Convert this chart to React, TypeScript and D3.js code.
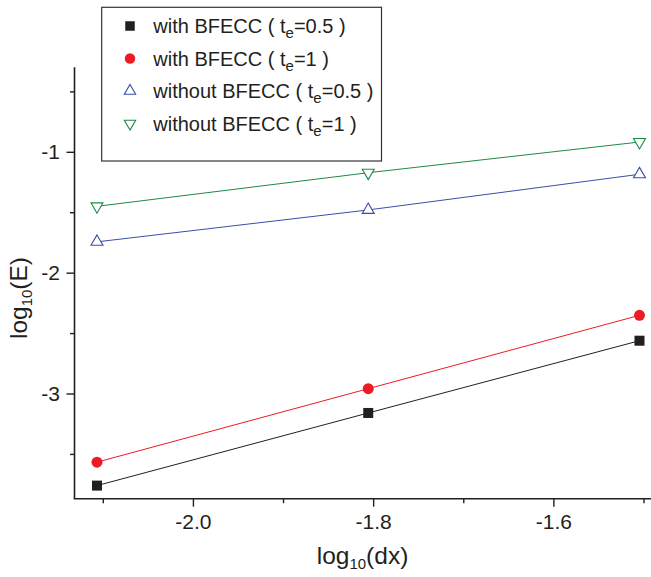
import React from "react";
import * as d3 from "d3";

const xValues = [-2.107, -1.806, -1.505];
const withTe05 = [-3.758, -3.157, -2.559];
const withTe1 = [-3.564, -2.956, -2.349];
const withoutTe05 = [-1.741, -1.477, -1.182];
const withoutTe1 = [-1.447, -1.169, -0.915];

const xMajorTicks = [-2.0, -1.8, -1.6];
const xMinorTicks = [-2.1, -1.9, -1.7, -1.5];
const yMajorTicks = [-1, -2, -3];
const yMinorTicks = [-0.5, -1.5, -2.5, -3.5];

const seriesNames = ["with BFECC", "with BFECC", "without BFECC", "without BFECC"];
const seriesTe = ["0.5", "1", "0.5", "1"];

const W = 651;
const H = 577;
const FONT = "'Liberation Sans', Arial, Helvetica, sans-serif";

export default function App() {
  const left = 74.5;
  const right = 660;
  const top = 67.3;
  const bottom = 498.7;

  const x = d3.scaleLinear().domain([-2.1, -1.5]).range([103.3, 644]);
  const y = d3.scaleLinear().domain([-1, -3]).range([152.3, 394]);

  const series = [
    { data: withTe05, color: "#231f20", marker: "square" },
    { data: withTe1, color: "#ed1c24", marker: "circle" },
    { data: withoutTe05, color: "#3a4ea8", marker: "up" },
    { data: withoutTe1, color: "#1f8a45", marker: "down" },
  ];

  const line = d3
    .line<number>()
    .x((_, i) => x(xValues[i]))
    .y((d) => y(d));

  const marker = (type: string, color: string, cx: number, cy: number, key: string, s = 1) => {
    if (type === "square") {
      const a = 10 * s;
      return <rect key={key} x={cx - a / 2} y={cy - a / 2} width={a} height={a} fill={color} />;
    }
    if (type === "circle") {
      return <circle key={key} cx={cx} cy={cy} r={5.5 * s} fill={color} />;
    }
    const rot = type === "down" ? 180 : 0;
    return (
      <path
        key={key}
        d={d3.symbol(d3.symbolTriangle, 62 * s * s)() as string}
        transform={`translate(${cx},${cy}) rotate(${rot})`}
        fill="white"
        stroke={color}
        strokeWidth={1.1}
      />
    );
  };

  const axisColor = "#231f20";
  const legendRows = [26, 58.5, 91, 123.5];

  return (
    <svg
      width={W}
      height={H}
      style={{ position: "absolute", left: 0, top: 0, background: "white" }}
      fontFamily={FONT}
    >
      <rect x={0} y={0} width={W} height={H} fill="white" />

      {series.map((s, i) => (
        <path key={"l" + i} d={line(s.data) as string} fill="none" stroke={s.color} strokeWidth={1} />
      ))}
      {series.map((s, i) =>
        s.data.map((v, j) => marker(s.marker, s.color, x(xValues[j]), y(v), `m${i}-${j}`))
      )}

      <line x1={left} y1={top} x2={left} y2={bottom} stroke={axisColor} strokeWidth={1.6} />
      <line x1={left - 0.8} y1={bottom} x2={right} y2={bottom} stroke={axisColor} strokeWidth={1.6} />

      {yMajorTicks.map((t) => (
        <g key={"ym" + t}>
          <line x1={left - 8} x2={left} y1={y(t)} y2={y(t)} stroke={axisColor} strokeWidth={1.4} />
          <text x={60} y={y(t) + 6.8} fontSize={21} textAnchor="end" fill={axisColor}>
            {d3.format("d")(t).replace("−", "-")}
          </text>
        </g>
      ))}
      {yMinorTicks.map((t) => (
        <line key={"yn" + t} x1={left - 4.5} x2={left} y1={y(t)} y2={y(t)} stroke={axisColor} strokeWidth={1.4} />
      ))}
      {xMajorTicks.map((t) => (
        <g key={"xm" + t}>
          <line x1={x(t)} x2={x(t)} y1={bottom} y2={bottom + 8} stroke={axisColor} strokeWidth={1.4} />
          <text x={x(t)} y={529.3} fontSize={21} textAnchor="middle" fill={axisColor}>
            {d3.format(".1f")(t).replace("−", "-")}
          </text>
        </g>
      ))}
      {xMinorTicks.map((t) => (
        <line key={"xn" + t} x1={x(t)} x2={x(t)} y1={bottom} y2={bottom + 4.5} stroke={axisColor} strokeWidth={1.4} />
      ))}

      <text x={362.5} y={564} fontSize={24.5} textAnchor="middle" fill={axisColor}>
        log<tspan fontSize={15} dy={5}>10</tspan>
        <tspan dy={-5}>(dx)</tspan>
      </text>
      <text
        transform={`translate(27,298) rotate(-90)`}
        fontSize={24.5}
        textAnchor="middle"
        fill={axisColor}
      >
        log<tspan fontSize={15} dy={5}>10</tspan>
        <tspan dy={-5}>(E)</tspan>
      </text>

      <rect x={101.7} y={7.3} width={279.8} height={153.7} fill="white" stroke="#333" strokeWidth={1.2} />
      {series.map((s, i) => (
        <g key={"lg" + i}>
          {marker(s.marker, s.color, 130, legendRows[i], "lm" + i, 0.95)}
          <text x={153.3} y={legendRows[i] + 7.3} fontSize={20} fill={axisColor}>
            {seriesNames[i]} ( t<tspan fontSize={15} dy={5}>e</tspan>
            <tspan dy={-5}>={seriesTe[i]} )</tspan>
          </text>
        </g>
      ))}
    </svg>
  );
}
